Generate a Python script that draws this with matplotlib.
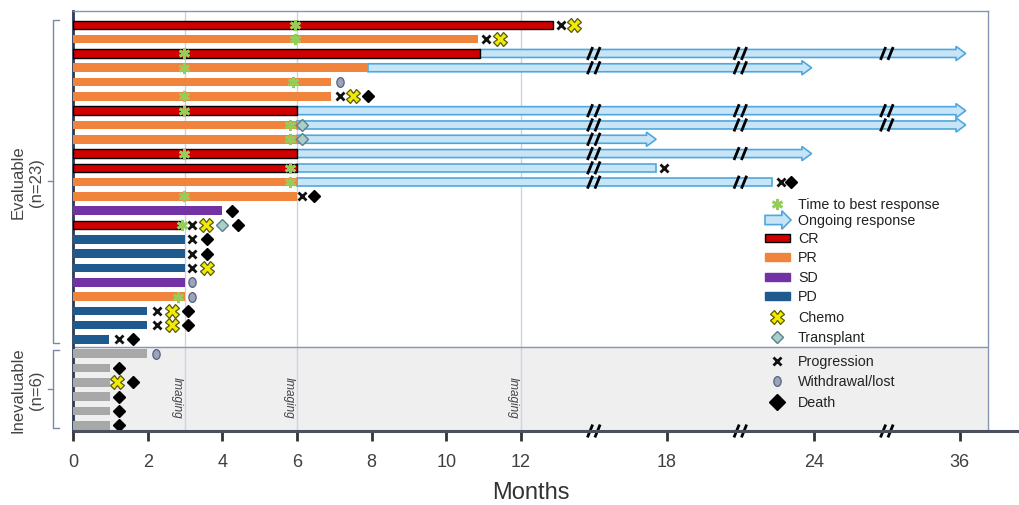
import numpy as np
import matplotlib.pyplot as plt
from matplotlib.patches import Polygon, Rectangle
from matplotlib.path import Path
from matplotlib.transforms import Affine2D, blended_transform_factory

plt.rcParams['font.family'] = ['Liberation Sans', 'DejaVu Sans']

# ---------------- patient data (months) ----------------
response = ['CR', 'PR', 'CR', 'PR', 'PR', 'PR', 'CR', 'PR', 'PR', 'CR', 'CR', 'PR',
            'PR', 'SD', 'CR', 'PD', 'PD', 'PD', 'SD', 'PR', 'PD', 'PD', 'PD',
            'NE', 'NE', 'NE', 'NE', 'NE', 'NE']
bar_end = [13.32, 10.85, 10.9, 7.9, 6.9, 6.9, 6.0, 6.0, 6.0, 6.0, 6.0, 6.0,
           6.0, 4.0, 2.87, 3.0, 3.0, 3.0, 3.0, 3.0, 1.98, 1.98, 0.97,
           1.98, 1.0, 1.0, 1.0, 1.0, 1.0]

best_row = [0, 1, 2, 3, 4, 5, 6, 7, 8, 9, 10, 11, 12, 14, 19]
best_month = [5.95, 5.95, 2.97, 2.97, 5.9, 2.97, 2.97, 5.8, 5.8, 2.97, 5.8, 5.8, 2.97, 2.92, 2.82]

ongoing_row = [2, 3, 6, 7, 8, 9]
ongoing_end = [36.5, 23.9, 36.5, 36.5, 17.57, 23.9]
ended_row = [10, 11]
ended_end = [17.57, 22.3]

prog_row = [0, 1, 5, 10, 11, 12, 14, 15, 16, 17, 20, 21, 22]
prog_month = [13.65, 11.06, 7.15, 17.9, 22.66, 6.13, 3.2, 3.2, 3.2, 3.2, 2.25, 2.25, 1.23]

chemo_row = [0, 1, 5, 14, 17, 20, 21, 25]
chemo_month = [14.2, 11.44, 7.5, 3.56, 3.58, 2.65, 2.65, 1.18]

transplant_row = [7, 8, 14]
transplant_month = [6.13, 6.13, 4.0]

withdraw_row = [4, 18, 19, 23]
withdraw_month = [7.15, 3.18, 3.18, 2.22]

death_row = [5, 11, 12, 13, 14, 15, 16, 20, 21, 22, 24, 25, 26, 27, 28]
death_month = [7.9, 23.07, 6.45, 4.26, 4.42, 3.58, 3.58, 3.08, 3.08, 1.6, 1.23, 1.6, 1.23, 1.23, 1.23]

tick_months = [0, 2, 4, 6, 8, 10, 12, 18, 24, 36]
imaging_months = [3, 6, 12]
break_months = [15, 21, 30]

colors = {'CR': '#d10000', 'PR': '#f0843c', 'SD': '#7232a6', 'PD': '#1f5a8f', 'NE': '#a8a8a8'}
arrow_fc, arrow_ec = '#c8e5f7', '#4fa8dd'

# broken time axis: first year linear, later intervals compressed
month_knots = [0, 12, 18, 24, 36, 48]
pos_knots = [0, 12, 15.9, 19.85, 23.75, 27.65]


def xpos(m):
    return np.interp(m, month_knots, pos_knots)


fig = plt.figure(figsize=(10.2, 5.06), dpi=100)
ax = fig.add_axes([73 / 1020, 74 / 506, 915 / 1020, 420 / 506])
y_bot, y_top = 28.4, -0.97
ax.set_xlim(0, 24.51)
ax.set_ylim(y_bot, y_top)

# inevaluable block shading + separator
ax.axhspan(22.5, y_bot, color='#efefef', zorder=0)
ax.axhline(22.5, color='#8595b5', lw=1, zorder=1)
for m in imaging_months:
    ax.axvline(xpos(m), color='#ccd4e2', lw=1, zorder=0.5)
    ax.text(xpos(m) - 0.22, 26, 'Imaging', rotation=270, style='italic', fontsize=8.5,
            ha='center', va='center', color='#444444')

# response bars
rows = np.arange(len(response))
ax.barh(rows, xpos(bar_end), height=0.6, color=[colors[r] for r in response],
        edgecolor=['black' if r == 'CR' else 'none' for r in response], lw=1, zorder=3)


def arrow_poly(x0, x1, y, body=0.28, head=0.5, head_len=0.26, trans=None):
    xs = [x0, x1 - head_len, x1 - head_len, x1, x1 - head_len, x1 - head_len, x0]
    ys = [y - body, y - body, y - head, y, y + head, y + body, y + body]
    kw = {} if trans is None else {'transform': trans}
    return Polygon(np.column_stack([xs, ys]), closed=True, fc=arrow_fc, ec=arrow_ec,
                   lw=1.2, zorder=2, **kw)


def slashes(xc, yc, half_h, clip=True):
    for dx in (-0.1, 0.1):
        ax.plot([xc + dx - 0.07, xc + dx + 0.07], [yc + half_h, yc - half_h],
                color='black', lw=2, solid_capstyle='butt', zorder=6, clip_on=clip)


break_pos = xpos(break_months)

for r, end in zip(ongoing_row, ongoing_end):
    x0, x1 = xpos(bar_end[r]), xpos(end)
    ax.add_patch(arrow_poly(x0, x1, r))
    for b in break_pos:
        if x0 < b < x1:
            slashes(b, r, 0.45)

for r, end in zip(ended_row, ended_end):
    x0, x1 = xpos(bar_end[r]), xpos(end)
    ax.add_patch(Rectangle((x0, r - 0.28), x1 - x0, 0.56, fc=arrow_fc, ec=arrow_ec,
                           lw=1.2, zorder=2))
    for b in break_pos:
        if x0 < b < x1:
            slashes(b, r, 0.45)

# event markers
oval = Path.unit_circle().transformed(Affine2D().scale(0.75, 1.0))
star_kw = dict(ls='none', marker=(6, 2, 0), ms=8, mew=2, color='#96cc5a', zorder=5)
chemo_kw = dict(ls='none', marker='X', ms=10, mfc='#f2ea00', mec='#5a5a00', mew=0.9, zorder=5)
trans_kw = dict(ls='none', marker='D', ms=6, mfc='#a9cfc9', mec='#5a7f8f', mew=1, zorder=5)
prog_kw = dict(ls='none', marker='x', ms=6, mew=2, color='#111111', zorder=5)
wd_kw = dict(ls='none', marker=oval, ms=7, mfc='#9ba4bd', mec='#56607a', mew=0.9, zorder=5)
death_kw = dict(ls='none', marker='D', ms=6, color='black', zorder=5)

ax.plot(xpos(best_month), best_row, **star_kw)
ax.plot(xpos(chemo_month), chemo_row, **chemo_kw)
ax.plot(xpos(transplant_month), transplant_row, **trans_kw)
ax.plot(xpos(prog_month), prog_row, **prog_kw)
ax.plot(xpos(withdraw_month), withdraw_row, **wd_kw)
ax.plot(xpos(death_month), death_row, **death_kw)

# axes styling
for side in ('top', 'right'):
    ax.spines[side].set_color('#8595b5')
    ax.spines[side].set_linewidth(1)
ax.spines['left'].set_color('#2b3a55')
ax.spines['left'].set_linewidth(2)
ax.spines['bottom'].set_visible(False)
ax.plot([0, 25.4], [y_bot, y_bot], color='#4a5060', lw=2.2, clip_on=False, zorder=7,
        solid_capstyle='butt')
for b in break_pos:
    slashes(b, y_bot, 0.45, clip=False)

ax.set_yticks([])
ax.set_xticks(xpos(tick_months))
ax.set_xticklabels([str(m) for m in tick_months])
ax.tick_params(axis='x', direction='out', length=7, width=2, color='#333333',
               labelsize=13, labelcolor='#404040', pad=9)
ax.set_xlabel('Months', fontsize=17, color='#333333', labelpad=8)

# braces and group labels
bt = blended_transform_factory(ax.transAxes, ax.transData)
brace_col = '#7a88a8'
for (y0, y1), label in [((-0.35, 22.25), 'Evaluable\n(n=23)'),
                        ((22.75, 28.2), 'Inevaluable\n(n=6)')]:
    ym = (y0 + y1) / 2
    ax.plot([-0.0153, -0.0219, -0.0219, -0.0153], [y0, y0, y1, y1], color=brace_col,
            lw=1, transform=bt, clip_on=False)
    ax.plot([-0.0219, -0.027], [ym, ym], color=brace_col, lw=1, transform=bt, clip_on=False)
    ax.text(-0.05, ym, label, rotation=90, ha='center', va='center', fontsize=12,
            color='#444444', transform=bt, linespacing=1.25)

# legend
ta = ax.transAxes


def fx(px):
    return (px - 73) / 915


def fy(py):
    return (432 - py) / 420


leg_items = [
    (205, 'Time to best response', 'star'),
    (221, 'Ongoing response', 'arrow'),
    (239, 'CR', 'CR'),
    (258, 'PR', 'PR'),
    (278, 'SD', 'SD'),
    (297, 'PD', 'PD'),
    (318, 'Chemo', 'chemo'),
    (338, 'Transplant', 'trans'),
    (362, 'Progression', 'prog'),
    (382, 'Withdrawal/lost', 'wd'),
    (403, 'Death', 'death'),
]
marker_kw = {'star': star_kw, 'chemo': chemo_kw, 'trans': trans_kw, 'prog': prog_kw,
             'wd': wd_kw, 'death': death_kw}
for py, text, kind in leg_items:
    y = fy(py)
    if kind == 'arrow':
        ax.add_patch(arrow_poly(fx(765), fx(791), y, body=0.011, head=0.022,
                                head_len=0.01, trans=ta))
    elif kind in colors:
        ax.add_patch(Rectangle((fx(765), y - 0.009), fx(790) - fx(765), 0.018,
                               fc=colors[kind], ec='black' if kind == 'CR' else colors[kind],
                               lw=1, transform=ta, zorder=5))
    else:
        kw = dict(marker_kw[kind])
        if kind == 'death':
            kw['ms'] = 8
        ax.plot([fx(777)], [y], transform=ta, **kw)
    ax.text(fx(798), y, text, transform=ta, fontsize=10.3, color='#222222',
            ha='left', va='center', zorder=6)

fig.savefig('out.png', dpi=100)
